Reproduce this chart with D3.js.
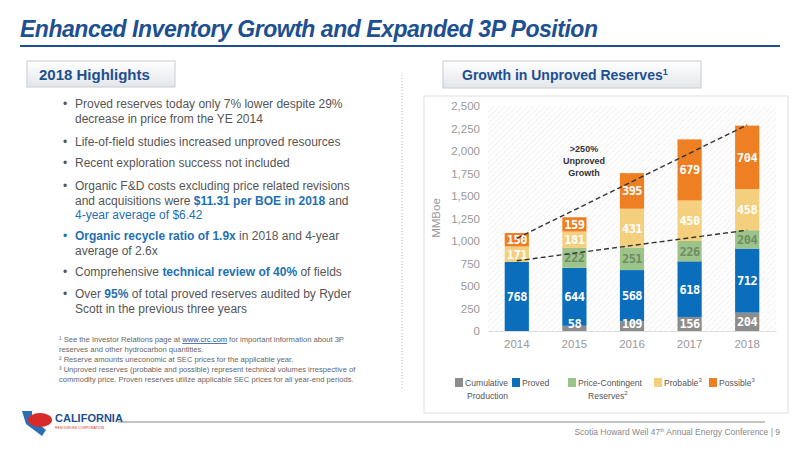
<!DOCTYPE html>
<html><head><meta charset="utf-8">
<script src="https://cdn.jsdelivr.net/npm/d3@7"></script>
<style>
body{margin:0;background:#fff;font-family:"Liberation Sans",sans-serif}
</style></head><body>
<script>
const years = ["2014", "2015", "2016", "2017", "2018"]
const seriesNames = ["Cumulative Production", "Proved", "Price-Contingent Reserves", "Probable", "Possible"]
const cumulative = [0, 58, 109, 156, 204]
const proved = [768, 644, 568, 618, 712]
const contingent = [0, 222, 251, 226, 204]
const probable = [171, 181, 431, 450, 458]
const possible = [150, 159, 395, 679, 704]
const colors = ["#8c8c8c", "#0a6ebd", "#9cc48a", "#f3cf7e", "#ee7f22"]
const labelColors = ["#fff", "#fff", "#6e8d63", "#fff", "#fff"]
const yTicks = [0, 250, 500, 750, 1000, 1250, 1500, 1750, 2000, 2250, 2500]
// dashed trend lines: [year, value]
const upperTrend = [["2014", 1030], ["2018", 2290]]
const lowerTrend = [["2014", 780], ["2018", 1120]]

const svg = d3.select("body").append("svg").attr("width", 800).attr("height", 450)
  .style("font-family", "'Liberation Sans',sans-serif")

// title
svg.append("text").attr("x", 20).attr("y", 37).text("Enhanced Inventory Growth and Expanded 3P Position")
  .attr("fill", "#1d4f91").attr("font-size", 23).attr("font-weight", "bold").attr("font-style", "italic")
  .attr("textLength", 578)
svg.append("line").attr("x1", 20).attr("x2", 780).attr("y1", 46).attr("y2", 46).attr("stroke", "#1d4f91").attr("stroke-width", 2)

const defs = svg.append("defs")
const grad = defs.append("linearGradient").attr("id", "tab").attr("x1", 0).attr("x2", 0).attr("y1", 0).attr("y2", 1)
grad.append("stop").attr("offset", 0).attr("stop-color", "#ffffff")
grad.append("stop").attr("offset", 1).attr("stop-color", "#e3e6ea")
const pat = defs.append("pattern").attr("id", "hatch").attr("width", 4).attr("height", 4)
  .attr("patternUnits", "userSpaceOnUse").attr("patternTransform", "rotate(45)")
pat.append("line").attr("x1", 0).attr("y1", 0).attr("x2", 0).attr("y2", 4).attr("stroke", "#ececec").attr("stroke-width", 1.5)

function tab(x, y, w, h, txt, size) {
  svg.append("rect").attr("x", x).attr("y", y).attr("width", w).attr("height", h)
    .attr("fill", "url(#tab)").attr("stroke", "#c8ccd2")
  svg.append("text").attr("x", x + 12).attr("y", y + h / 2 + 6).text(txt)
    .attr("fill", "#1d4f91").attr("font-weight", "bold").attr("font-size", size)
}
tab(27, 61, 148, 26, "2018 Highlights", 15)
svg.append("line").attr("x1", 402).attr("x2", 402).attr("y1", 75).attr("y2", 390)
  .attr("stroke", "#bbb").attr("stroke-dasharray", "1,2")

// bullets
const bullets = [
  [[["Proved reserves today only 7% lower despite 29%"]], [["decrease in price from the YE 2014"]]],
  [[["Life-of-field studies increased unproved resources"]]],
  [[["Recent exploration success not included"]]],
  [[["Organic F&D costs excluding price related revisions"]], [["and acquisitions were "], ["$11.31 per BOE in 2018", "b"], [" and"]], [["4-year average of $6.42", "n"]]],
  [[["Organic recycle ratio of 1.9x", "b"], [" in 2018 and 4-year"]], [["average of 2.6x"]]],
  [[["Comprehensive "], ["technical review of 40%", "b"], [" of fields"]]],
  [[["Over "], ["95%", "b"], [" of total proved reserves audited by Ryder"]], [["Scott in the previous three years"]]]
]
const bulletY = [108, 146, 167, 190, 240, 276, 298]
bullets.forEach((b, i) => {
  svg.append("text").attr("x", 63).attr("y", bulletY[i]).text("•")
    .attr("fill", i == 4 ? "#1f6fb5" : "#555").attr("font-size", 12)
  b.forEach((line, j) => {
    const t = svg.append("text").attr("x", 75).attr("y", bulletY[i] + j * 14.5).attr("font-size", 12).attr("fill", "#555")
    line.forEach(s => {
      const ts = t.append("tspan").text(s[0])
      if (s[1] == "b") ts.attr("fill", "#1f6fb5").attr("font-weight", "bold")
      if (s[1] == "n") ts.attr("fill", "#1f6fb5")
    })
  })
})
const notes = [
  ["¹ See the Investor Relations page at ", "www.crc.com", " for important information about 3P"],
  ["   reserves and other hydrocarbon quantities."],
  ["² Reserve amounts uneconomic at SEC prices for the applicable year."],
  ["³ Unproved reserves (probable and possible) represent technical volumes irrespective of"],
  ["   commodity price. Proven reserves utilize applicable SEC prices for all year-end periods."]
]
notes.forEach((n, i) => {
  const t = svg.append("text").attr("x", 59).attr("y", 342 + i * 10).attr("font-size", 7.6).attr("fill", "#666")
  n.forEach((s, k) => { const ts = t.append("tspan").text(s); if (k == 1) ts.attr("fill", "#1f4fa0").attr("text-decoration", "underline") })
})

// chart panel
svg.append("rect").attr("x", 424).attr("y", 96).attr("width", 364).attr("height", 317).attr("fill", "#fff").attr("stroke", "#ddd")
tab(443, 61, 258, 27, "", 14)
svg.append("text").attr("x", 462).attr("y", 80).attr("fill", "#1d4f91").attr("font-weight", "bold").attr("font-size", 14)
  .text("Growth in Unproved Reserves").append("tspan").text("1").attr("font-size", 9).attr("dy", -5)

const x = d3.scaleBand().domain(years).range([488, 776]).paddingInner(0.58).paddingOuter(0.29)
const y = d3.scaleLinear().domain([0, 2500]).range([331, 106])

svg.append("rect").attr("x", 488).attr("y", 106).attr("width", 288).attr("height", 225).attr("fill", "url(#hatch)")
const yAxis = svg.append("g").attr("transform", "translate(488,0)")
  .call(d3.axisLeft(y).tickValues(yTicks).tickFormat(d3.format(",")).tickSize(0).tickPadding(8))
yAxis.select(".domain").remove()
yAxis.selectAll("text").attr("fill", "#999").attr("font-size", 11.5)
const xAxis = svg.append("g").attr("transform", "translate(0,331)").call(d3.axisBottom(x).tickSize(0).tickPadding(9))
xAxis.select(".domain").attr("stroke", "#ddd")
xAxis.selectAll("text").attr("fill", "#999").attr("font-size", 11.5)
svg.append("text").attr("transform", "translate(440,218) rotate(-90)").attr("text-anchor", "middle")
  .attr("fill", "#999").attr("font-size", 11.5).text("MMBoe")

const rows = years.map((yr, i) => ({ year: yr, s0: cumulative[i], s1: proved[i], s2: contingent[i], s3: probable[i], s4: possible[i] }))
const stack = d3.stack().keys(["s0", "s1", "s2", "s3", "s4"])(rows)
const barG = svg.append("g"), labG = svg.append("g")
stack.forEach((layer, k) => {
  barG.append("g").selectAll("rect").data(layer).join("rect")
    .attr("x", d => x(d.data.year)).attr("width", x.bandwidth())
    .attr("y", d => y(d[1])).attr("height", d => y(d[0]) - y(d[1])).attr("fill", colors[k])
  labG.append("g").selectAll("text").data(layer.filter(d => d[1] - d[0] > 0)).join("text")
    .attr("x", d => x(d.data.year) + x.bandwidth() / 2)
    .attr("y", d => Math.min(y((d[0] + d[1]) / 2) + 4.5, 328))
    .attr("text-anchor", "middle").attr("fill", labelColors[k]).attr("font-size", 12).attr("font-weight", "bold")
    .style("font-family", "'DejaVu Sans Mono',monospace").attr("letter-spacing", -0.5)
    .text(d => d[1] - d[0])
})

const line = d3.line().x(d => x(d[0]) + x.bandwidth() / 2).y(d => y(d[1]))
;[upperTrend, lowerTrend].forEach(tr => {
  svg.append("path").attr("d", line(tr)).attr("fill", "none").attr("stroke", "#333")
    .attr("stroke-width", 1.4).attr("stroke-dasharray", "5,3")
})
;[">250%", "Unproved", "Growth"].forEach((t, i) => {
  svg.append("text").attr("x", 584).attr("y", 152 + i * 12).attr("text-anchor", "middle")
    .attr("font-size", 9).attr("font-weight", "bold").attr("fill", "#333").text(t)
})

// legend
const legItems = [
  { x: 455, lines: ["Cumulative", "Production"], sup: "" },
  { x: 512, lines: ["Proved"], sup: "" },
  { x: 568, lines: ["Price-Contingent", "Reserves"], sup: "2" },
  { x: 654, lines: ["Probable"], sup: "3" },
  { x: 709, lines: ["Possible"], sup: "3" }
]
legItems.forEach((l, i) => {
  svg.append("rect").attr("x", l.x).attr("y", 378).attr("width", 8).attr("height", 9).attr("fill", colors[i])
  l.lines.forEach((ln, j) => {
    const t = svg.append("text").attr("x", l.x + 10 + (j && i == 0 ? 2 : 0) + (j && i == 2 ? 10 : 0)).attr("y", 386 + j * 13)
      .attr("font-size", 8.6).attr("fill", "#555").text(ln)
    if (j == l.lines.length - 1 && l.sup) t.append("tspan").text(l.sup).attr("font-size", 6).attr("dy", -4)
  })
})

// footer
svg.append("line").attr("x1", 118).attr("x2", 765).attr("y1", 422).attr("y2", 422).attr("stroke", "#888")
svg.append("path").attr("d", "M22,411 L32,411 L32,418 L46,430 L42,436 L26,424 Z").attr("fill", "#2a6fb5")
svg.append("ellipse").attr("cx", 40).attr("cy", 420).attr("rx", 12).attr("ry", 7).attr("fill", "#d92a2a")
svg.append("text").attr("x", 55).attr("y", 422).text("CALIFORNIA").attr("fill", "#1d4f91").attr("font-size", 11).attr("font-weight", "bold")
svg.append("text").attr("x", 55).attr("y", 429).text("RESOURCES CORPORATION").attr("fill", "#d92a2a").attr("font-size", 3.5)
const ft = svg.append("text").attr("x", 780).attr("y", 435).attr("text-anchor", "end").attr("font-size", 8.5).attr("fill", "#888")
ft.append("tspan").text("Scotia Howard Weil 47")
ft.append("tspan").text("th").attr("font-size", 5).attr("dy", -3)
ft.append("tspan").text(" Annual Energy Conference |  9").attr("dy", 3)
</script>
</body></html>
